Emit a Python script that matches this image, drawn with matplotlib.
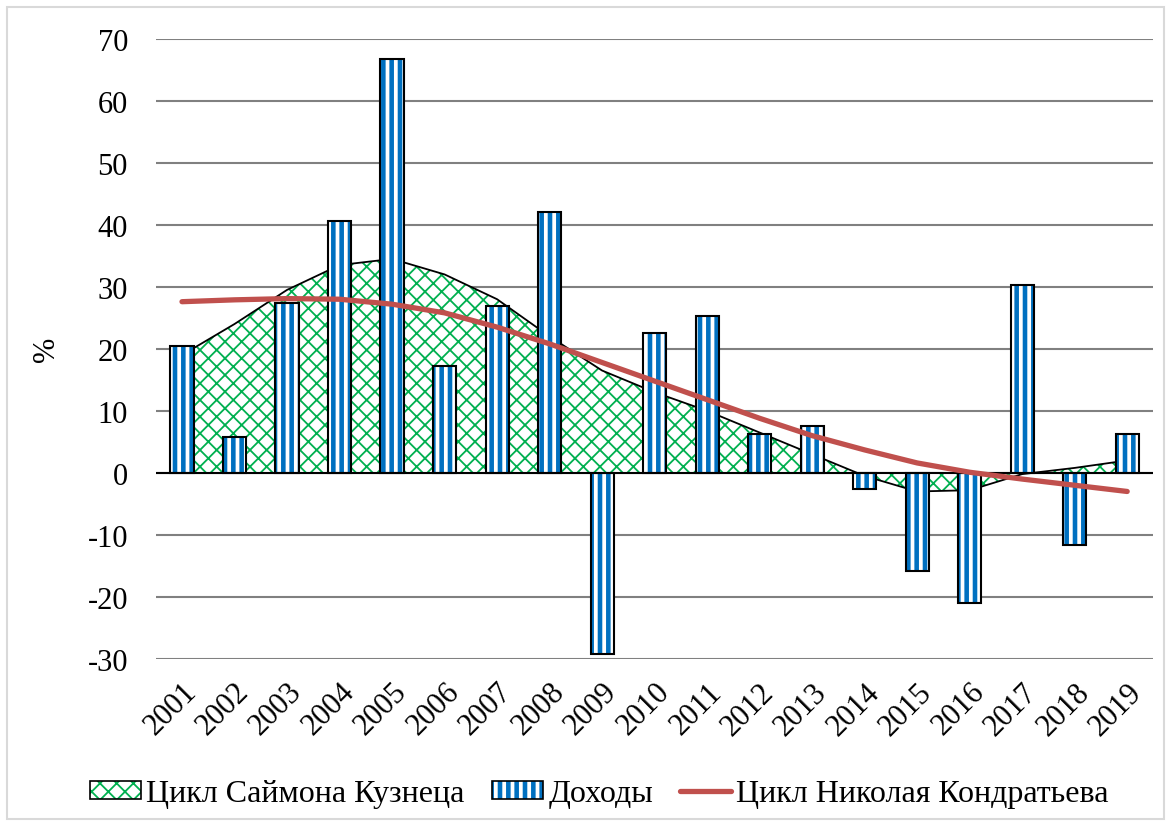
import numpy as np
import matplotlib.pyplot as plt
from matplotlib.patches import Patch, Rectangle
from matplotlib.lines import Line2D

plt.rcParams['font.family'] = ['Liberation Serif', 'DejaVu Serif']
plt.rcParams['axes.unicode_minus'] = False
plt.rcParams['hatch.linewidth'] = 1.8

years = [str(y) for y in range(2001, 2020)]
dohody = [20.5, 5.8, 27.4, 40.6, 66.8, 17.3, 26.9, 42.1, -29.2, 22.6,
          25.3, 6.3, 7.6, -2.6, -15.8, -21.0, 30.3, -11.6, 6.3]
kuznets = [19.0, 24.0, 29.5, 33.5, 34.5, 32.0, 28.0, 22.0, 16.5, 13.0,
           10.0, 6.5, 3.0, -0.5, -3.0, -2.8, -0.2, 0.8, 2.0]
kondratiev = [27.6, 27.9, 28.1, 28.0, 27.2, 25.8, 23.5, 20.8, 17.8, 14.8,
              11.8, 8.8, 6.0, 3.7, 1.6, 0.1, -1.0, -2.0, -3.0]

blue = '#0070C0'
green = '#00B050'
red = '#C0504D'


def hatch_lw(artist, lw):
    # per-artist hatch width where the matplotlib version allows it
    if hasattr(artist, 'set_hatch_linewidth'):
        artist.set_hatch_linewidth(lw)


fig = plt.figure(figsize=(11.71, 8.28), dpi=100)
fig.patches.append(Rectangle((0.006, 0.01), 0.988, 0.98, transform=fig.transFigure,
                             fill=False, edgecolor='#D9D9D9', linewidth=1.5))
ax = fig.add_axes([0.133, 0.203, 0.852, 0.749])

x = np.arange(len(years))

# area (Кузнец)
area = ax.fill_between(x, kuznets, 0, facecolor='white', edgecolor=green, hatch='xx',
                       linewidth=0, zorder=2)
hatch_lw(area, 1.3)
ax.plot(x, kuznets, color='black', linewidth=1.3, zorder=2.5)

# bars (Доходы): blue with white stripes + black outline
w = 0.44
bars = ax.bar(x, dohody, width=w, color=blue, edgecolor='white', hatch='||',
              linewidth=0, zorder=3)
for b in bars:
    hatch_lw(b, 2.7)
ax.bar(x, dohody, width=w, fill=False, edgecolor='black', linewidth=1.5, zorder=3.5)

# trend line (Кондратьев)
ax.plot(x, kondratiev, color=red, linewidth=3.8, solid_capstyle='round', zorder=4)

ax.axhline(0, color='black', linewidth=1.5, zorder=3.2)

ax.set_xlim(-0.5, len(years) - 0.5)
ax.set_ylim(-30, 70)
ax.set_yticks(range(-30, 71, 10))
ax.yaxis.grid(True, color='#808080', linewidth=1.5)
ax.set_axisbelow(True)
for s in ax.spines.values():
    s.set_visible(False)
ax.tick_params(axis='both', length=0, labelsize=22)
ax.tick_params(axis='y', pad=20)
ax.set_xticks(x)
ax.set_xticklabels(years, rotation=45, ha='right', rotation_mode='anchor')
ax.tick_params(axis='x', pad=13)
ax.set_ylabel('%', fontsize=22)
ax.yaxis.set_label_coords(-0.095, 0.5)

green_h = Patch(facecolor='white', edgecolor=green, hatch='xx', linewidth=0)
blue_h = Patch(facecolor=blue, edgecolor='white', hatch='||', linewidth=0)
hatch_lw(green_h, 1.3)
hatch_lw(blue_h, 2.7)
frame_h1 = Patch(facecolor='none', edgecolor='black', linewidth=1.2)
frame_h2 = Patch(facecolor='none', edgecolor='black', linewidth=1.2)
handles = [
    (green_h, frame_h1),
    (blue_h, frame_h2),
    Line2D([0], [0], color=red, linewidth=3.8, solid_capstyle='round'),
]
labels = ['Цикл Саймона Кузнеца', 'Доходы', 'Цикл Николая Кондратьева']
leg = fig.legend(handles, labels, loc='center', bbox_to_anchor=(0.512, 0.04),
                 ncol=3, frameon=False, fontsize=23, handlelength=1.6,
                 handleheight=0.45, handletextpad=0.16, columnspacing=0.85)
for p in leg.get_patches():
    hatch_lw(p, 2.7 if p.get_facecolor()[2] > 0.5 and p.get_facecolor()[0] < 0.5 else 1.3)

fig.savefig('out.png', dpi=100)
